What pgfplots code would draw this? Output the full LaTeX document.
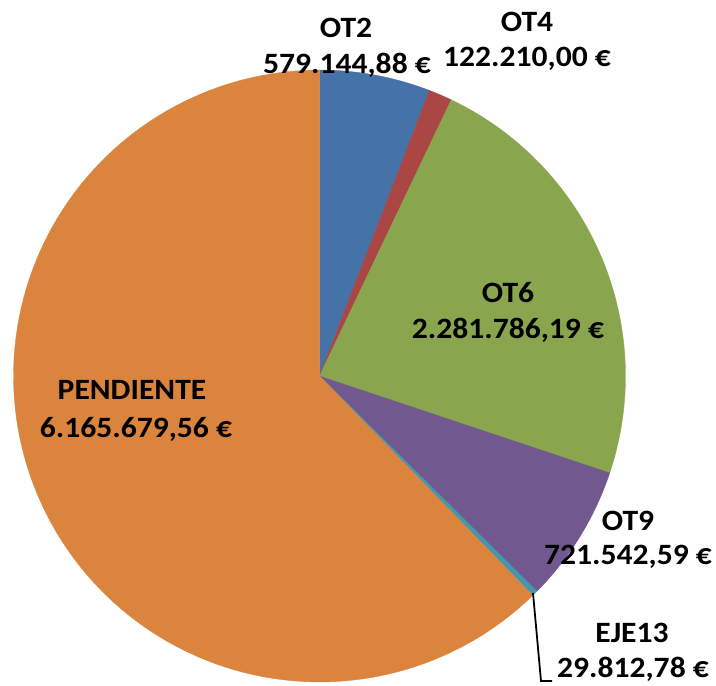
\documentclass[border=0pt]{standalone}
\usepackage{pgfplots}
\pgfplotsset{compat=1.18}
\usepackage{fontspec}
\setmainfont{Carlito}[FakeStretch=1.07]
\definecolor{cOTtwo}{HTML}{4572A7}
\definecolor{cOTfour}{HTML}{AA4643}
\definecolor{cOTsix}{HTML}{89A54E}
\definecolor{cOTnine}{HTML}{71588F}
\definecolor{cEJE}{HTML}{4198AF}
\definecolor{cPEND}{HTML}{DB843D}
% values in millions of euros (cumulative boundaries)
% OT2 0.57914488, OT4 0.12221000, OT6 2.28178619, OT9 0.72154259, EJE13 0.02981278, PENDIENTE 6.16567956
\newcommand\total{9.900176}
\newcommand\slice[3]{%
  \addplot[fill=#3, draw=#3, line width=0.3pt, domain=#1:#2, samples=120]
    ({319.5+306*cos(90-360*x/\total)},{310+306*sin(90-360*x/\total)}) -- (axis cs:319.5,310) -- cycle;}
\tikzset{lbl/.style={font=\bfseries\fontsize{29.5}{35}\selectfont, text=black, inner sep=0pt}}
\begin{document}
\begin{tikzpicture}
\begin{axis}[
  scale only axis, width=716pt, height=686pt,
  xmin=0, xmax=716, ymin=0, ymax=686,
  hide axis, clip=false,
]
\path (rel axis cs:0,0) rectangle (rel axis cs:1,1);
\slice{0}{0.57914488}{cOTtwo}
\slice{0.57914488}{0.70135488}{cOTfour}
\slice{0.70135488}{2.98314107}{cOTsix}
\slice{2.98314107}{3.70468366}{cOTnine}
\slice{3.70468366}{3.73449644}{cEJE}
\slice{3.73449644}{9.900176}{cPEND}
\addplot[black, line width=1.8pt, mark=none] coordinates {(533,93) (541,5) (552,5)};
\node[lbl] at (axis cs:346,658) {OT2};
\node[lbl] at (axis cs:347,621) {579.144,88 €};
\node[lbl] at (axis cs:527,664) {OT4};
\node[lbl] at (axis cs:527,627) {122.210,00 €};
\node[lbl] at (axis cs:508,393) {OT6};
\node[lbl] at (axis cs:508,356) {2.281.786,19 €};
\node[lbl] at (axis cs:628,165) {OT9};
\node[lbl] at (axis cs:628,129) {721.542,59 €};
\node[lbl] at (axis cs:632,53) {EJE13};
\node[lbl] at (axis cs:633,17) {29.812,78 €};
\node[lbl] at (axis cs:132,296) {PENDIENTE};
\node[lbl] at (axis cs:136,257) {6.165.679,56 €};
\end{axis}
\end{tikzpicture}
\end{document}
